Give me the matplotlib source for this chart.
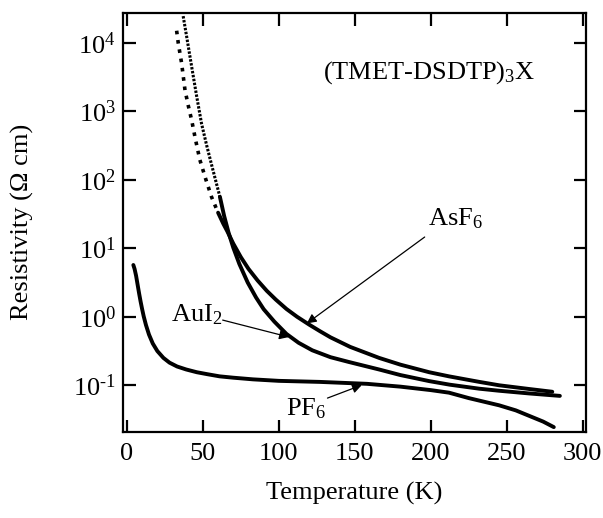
import matplotlib
matplotlib.use("Agg")
import matplotlib.pyplot as plt
from matplotlib.ticker import FixedLocator, NullLocator, FixedFormatter

plt.rcParams['font.family'] = ['Liberation Serif', 'DejaVu Serif']
plt.rcParams['mathtext.fontset'] = 'custom'
plt.rcParams['mathtext.rm'] = 'Liberation Serif'
plt.rcParams['mathtext.it'] = 'Liberation Serif:italic'
plt.rcParams['mathtext.default'] = 'regular'

# ---------------- data ----------------
# PF6
pf6_T = [4.2, 5.0, 6.0, 7.0, 8.0, 9.0, 10.0, 11.0, 12.5, 14.5, 17, 20, 24, 28, 33, 39,
         46, 53, 61, 70, 83, 100, 127, 158, 180, 200, 212, 225, 245, 256, 274, 281]
pf6_rho = [5.70, 5.01, 3.98, 2.95, 2.19, 1.66, 1.29, 1.02, 0.759, 0.550, 0.407, 0.316,
           0.251, 0.214, 0.188, 0.170, 0.155, 0.145, 0.135, 0.129, 0.122, 0.116, 0.112,
           0.105, 0.0955, 0.085, 0.078, 0.065, 0.051, 0.043, 0.0295, 0.0245]

# AsF6: sparse-dotted low-T part and solid high-T part
asf6_T_dot = [32.7, 33.8, 36, 38.2, 40.4, 42.6, 45, 48, 52, 55.7, 60]
asf6_rho_dot = [1.5e4, 9.8e3, 5.0e3, 2.04e3, 1.2e3, 741, 398, 195, 100, 56, 33]
asf6_T = [60, 63.4, 66, 70, 75, 80, 86, 92, 98, 105, 112, 120, 127, 134, 147, 166,
          180, 199, 212, 232, 245, 265, 280]
asf6_rho = [33.1, 22.9, 17.8, 11.7, 7.41, 5.01, 3.39, 2.40, 1.78, 1.30, 1.0, 0.767,
            0.617, 0.501, 0.363, 0.251, 0.200, 0.155, 0.135, 0.112, 0.100, 0.0881,
            0.0804]

# AuI2: dense-dotted low-T part and solid high-T part
aui2_T_dot = [37, 39.3, 42.6, 45.8, 49.1, 52.5, 55.7, 58.5, 61.2]
aui2_rho_dot = [2.45e4, 1.23e4, 4.47e3, 1.70e3, 661, 316, 166, 95.5, 56.2]
aui2_T = [61.2, 64, 67, 70, 74, 79.5, 85, 90, 97, 105, 113, 122, 134, 146, 166, 180,
          199, 212.5, 232, 245, 265, 285]
aui2_rho = [56.2, 29.5, 16.6, 10.2, 5.89, 3.16, 1.91, 1.29, 0.851, 0.562, 0.417, 0.324,
            0.257, 0.219, 0.170, 0.141, 0.115, 0.102, 0.0891, 0.0832, 0.0759, 0.070]

x_ticks = [0, 50, 100, 150, 200, 250, 300]
y_ticks = [1e-1, 1e0, 1e1, 1e2, 1e3, 1e4]
y_tick_labels = ['10$^{\\text{-}1}$', '10$^{0}$', '10$^{1}$', '10$^{2}$', '10$^{3}$',
                 '10$^{4}$']

# ---------------- figure ----------------
fig = plt.figure(figsize=(6.03, 5.18), dpi=100)
ax = fig.add_axes([0.204, 0.1666, 0.9713 - 0.204, 0.9755 - 0.1666])
ax.set_yscale('log')
ax.set_xlim(-2.6, 302)
ax.set_ylim(0.021, 2.75e4)

lw = 2.8
ax.plot(pf6_T, pf6_rho, color='black', lw=lw, solid_capstyle='round',
        solid_joinstyle='round')
ax.plot(asf6_T, asf6_rho, color='black', lw=lw, solid_capstyle='round',
        solid_joinstyle='round')
ax.plot(aui2_T, aui2_rho, color='black', lw=lw, solid_capstyle='round',
        solid_joinstyle='round')
ax.plot(asf6_T_dot, asf6_rho_dot, color='black', lw=2.6, linestyle=(0, (1.0, 1.6)))
ax.plot(aui2_T_dot, aui2_rho_dot, color='black', lw=2.2, linestyle=(0, (0.8, 0.5)))

# ticks
ax.xaxis.set_major_locator(FixedLocator(x_ticks))
ax.yaxis.set_major_locator(FixedLocator(y_ticks))
ax.yaxis.set_major_formatter(FixedFormatter(y_tick_labels))
ax.yaxis.set_minor_locator(NullLocator())
ax.xaxis.set_minor_locator(NullLocator())
ax.tick_params(which='major', direction='in', length=9, width=1.6,
               top=True, right=True, labelsize=19)
ax.tick_params(axis='x', pad=8)
ax.tick_params(axis='y', pad=5)
for s in ax.spines.values():
    s.set_linewidth(1.6)

ax.set_xlabel('Temperature (K)', fontsize=19, labelpad=12)
ax.set_ylabel('Resistivity (\u03a9 cm)', fontsize=19, labelpad=28)

# annotations
ax.text(129, 3.73e3, '(TMET-DSDTP)$_{3}$X', fontsize=19, ha='left', va='center')
arrowprops = dict(arrowstyle='-|>', color='black', lw=0.9, mutation_scale=14,
                  shrinkA=0, shrinkB=0)
ax.text(198, 27, 'AsF$_{6}$', fontsize=19, ha='left', va='center')
ax.annotate('', xy=(118.4, 0.80), xytext=(196, 14.6), arrowprops=arrowprops)
ax.text(46, 1.06, 'AuI$_{2}$', fontsize=19, ha='center', va='center')
ax.annotate('', xy=(106.6, 0.506), xytext=(63, 0.895), arrowprops=arrowprops)
ax.text(117.8, 0.046, 'PF$_{6}$', fontsize=19, ha='center', va='center')
ax.annotate('', xy=(154.6, 0.1007), xytext=(132, 0.065), arrowprops=arrowprops)

fig.savefig('out.png', dpi=100)
